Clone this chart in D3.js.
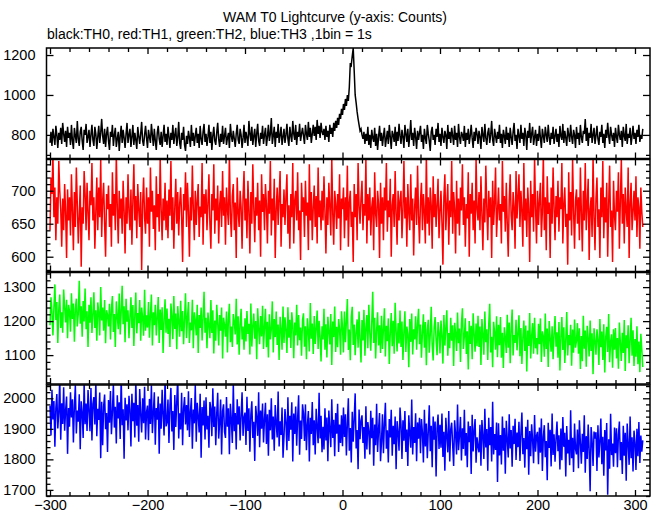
<!DOCTYPE html>
<html><head><meta charset="utf-8">
<script src="https://cdn.jsdelivr.net/npm/d3@7"></script>
<style>
body{margin:0;background:#fff}
svg{display:block}
text{font-family:"Liberation Sans",Arial,Helvetica,sans-serif;fill:#000}
</style>
</head><body><svg id="c" width="661" height="515"></svg>
<script>
// time of the first bin (s); 1 bin = 1 s
const binStart = -300;

const th0 = [
760,815,745,830,790,750,845,800,735,810,775,835,755,860,805,765,820,740,840,785,
810,750,850,770,730,835,795,760,870,780,745,815,840,770,725,825,800,855,760,790,
825,740,800,850,775,745,840,805,730,790,845,760,810,880,795,755,830,740,805,840,
770,725,815,790,850,745,800,835,740,780,815,720,795,845,760,825,785,735,805,860,
760,800,830,740,790,850,750,810,775,730,840,795,755,805,865,770,745,800,845,785,
735,825,790,760,855,800,745,830,770,725,810,845,780,750,815,740,795,850,765,805,
750,840,790,735,810,775,850,755,800,835,745,785,865,760,730,810,775,840,750,720,
795,755,820,785,740,850,770,810,745,795,835,760,805,735,845,780,750,815,855,765,
805,745,790,850,760,815,725,795,840,770,750,810,860,780,740,805,765,845,755,795,
835,750,785,810,735,855,795,765,820,780,740,805,850,775,755,830,800,735,785,850,
760,815,785,745,870,805,770,840,750,795,830,740,805,855,770,745,810,780,845,755,
800,835,745,790,850,770,805,885,755,795,840,740,815,785,855,760,800,840,750,790,
830,760,800,855,780,745,840,795,765,870,805,775,850,750,815,790,855,770,805,835,
795,755,850,805,775,865,790,835,760,805,850,795,840,775,875,805,845,785,860,815,
800,830,775,845,790,820,765,850,805,835,790,860,820,870,835,885,850,905,880,930,
900,955,925,980,945,1000,970,1040,1160,1150,1195,1235,1120,1000,960,915,880,850,820,830,
800,780,815,755,805,770,840,750,800,735,825,785,765,835,745,805,725,790,845,770,
810,745,795,835,740,780,820,755,850,790,730,820,800,765,840,745,815,770,855,795,
755,825,790,735,850,805,765,830,740,795,875,775,810,745,835,790,730,820,775,810,
845,765,800,730,830,785,755,850,805,770,720,815,840,775,800,750,830,790,860,765,
805,745,835,790,760,820,800,730,850,780,815,760,835,795,750,845,775,810,740,855,
790,755,815,800,770,845,740,810,775,830,755,795,850,785,735,815,770,835,805,755,
820,790,730,840,800,765,855,785,750,810,835,760,800,870,775,745,830,795,760,815,
780,850,760,805,735,825,795,755,840,775,810,740,835,790,750,815,860,770,800,730,
830,795,760,850,780,810,745,835,800,725,820,785,860,760,805,840,750,790,825,745,
805,770,845,785,735,830,795,760,840,800,765,850,790,750,810,780,840,755,795,830,
765,805,740,845,795,775,855,760,820,785,745,835,800,765,850,790,755,825,800,735,
840,780,810,750,850,790,760,820,805,880,770,835,745,810,785,855,760,800,835,755,
795,845,780,750,815,790,850,760,805,735,825,785,860,795,755,840,800,770,810,740,
835,790,760,850,800,775,820,740,840,795,770,855,755,805,785,835,750,795,845,780,
810,755,825,790,850,765,800,780,830];

const th1 = [
640,720,695,755,660,705,625,690,650,745,700,672,615,688,640,710,668,598,702,655,
690,632,725,668,610,698,645,735,680,620,662,708,585,675,650,730,695,640,712,668,
625,700,678,742,655,690,612,668,720,640,705,660,748,630,685,712,650,600,695,672,
708,645,680,615,728,662,695,640,755,675,620,700,658,688,635,715,670,605,690,650,
725,668,640,702,618,685,740,655,692,628,710,672,645,698,580,680,720,660,635,705,
650,690,615,735,668,700,642,678,610,722,660,695,638,750,672,625,688,655,712,640,
685,628,702,662,745,640,690,612,675,718,650,698,632,680,705,660,592,695,670,728,
645,712,668,600,690,655,738,672,625,700,648,685,710,630,676,660,742,618,695,665,
702,640,680,725,650,612,695,670,740,635,688,655,708,620,678,700,645,730,662,690,
618,705,672,648,755,665,630,692,710,640,682,598,720,668,645,700,675,612,690,730,
655,688,628,715,670,605,698,650,740,675,622,690,662,712,640,685,600,725,668,695,
640,710,678,620,700,665,745,632,688,655,718,598,672,705,648,690,730,615,680,660,
702,648,690,725,635,678,612,695,660,742,620,685,700,655,728,640,670,595,712,668,
690,630,715,662,682,610,740,655,698,625,675,708,645,692,620,735,660,685,640,700,
655,722,668,605,690,648,712,675,632,750,665,618,700,680,642,695,658,725,610,688,
672,705,628,690,655,738,615,682,700,645,668,592,710,660,695,625,742,678,650,688,
715,640,680,662,748,620,695,655,705,632,675,690,610,728,665,645,700,680,598,712,
650,690,625,705,670,742,638,685,660,718,600,678,695,645,730,665,618,700,655,685,
700,628,672,745,658,690,615,710,668,640,725,655,688,602,675,705,648,738,662,620,
685,712,640,695,668,620,755,650,690,632,705,678,612,722,660,695,645,680,718,628,
668,700,652,588,690,725,640,678,710,618,685,660,745,635,698,672,605,715,650,688,
632,705,670,740,648,690,615,680,658,728,600,695,665,712,640,685,620,750,672,655,
698,640,722,665,610,688,652,738,675,625,700,660,690,598,715,648,682,735,630,668,
705,655,680,620,745,668,692,638,712,650,600,685,725,662,640,698,675,612,730,658,
690,725,645,700,668,615,742,655,688,630,705,672,592,715,660,695,638,750,675,620,
700,648,685,712,630,668,755,640,690,610,722,665,682,598,705,650,735,675,625,692,
660,715,638,690,672,742,620,680,705,645,665,588,728,655,698,632,748,670,612,685,
702,650,690,625,735,668,608,700,655,742,640,680,718,595,672,690,630,752,660,610,
688,720,645,672,598,705,660,745,628,690,652,712,600,680,738,645,670,592,715,662,
640,700,668,728,612,685,748,650,695,620,705,670,645,735,598,682,712,640,668,700,
655,722,630,690,675,612,705,668,645];

const th2 = [
1188,1270,1226,1158,1240,1308,1203,1256,1136,1233,1278,1180,1226,1166,1293,1240,1196,1263,1150,1248,
1229,1169,1282,1206,1252,1139,1236,1266,1184,1222,1319,1192,1244,1154,1259,1199,1296,1176,1229,1124,
1248,1195,1270,1165,1218,1285,1180,1232,1142,1255,1225,1158,1300,1202,1240,1172,1262,1135,1232,1218,
1184,1251,1146,1236,1274,1168,1221,1124,1258,1214,1176,1281,1161,1228,1304,1191,1244,1138,1266,1198,
1232,1150,1210,1270,1180,1247,1127,1217,1284,1164,1224,1194,1262,1142,1240,1210,1157,1292,1172,1217,
1181,1256,1151,1218,1278,1128,1226,1188,1248,1158,1211,1271,1136,1234,1174,1241,1106,1204,1264,1166,
1237,1162,1207,1124,1252,1214,1147,1274,1177,1222,1117,1244,1200,1154,1260,1170,1230,1132,1207,1282,
1150,1210,1256,1136,1196,1173,1263,1120,1226,1203,1158,1248,1106,1218,1180,1240,1143,1210,1286,1166,
1210,1120,1225,1188,1150,1262,1165,1232,1105,1202,1142,1248,1195,1128,1218,1172,1240,1090,1210,1188,
1154,1228,1108,1206,1251,1138,1184,1124,1221,1198,1161,1266,1131,1214,1101,1191,1236,1146,1184,1116,
1208,1140,1230,1162,1192,1102,1252,1125,1185,1222,1148,1200,1088,1238,1178,1132,1215,1155,1245,1118,
1183,1236,1123,1198,1093,1220,1146,1176,1258,1108,1206,1153,1228,1130,1190,1086,1213,1176,1116,1243,
1136,1211,1174,1106,1241,1151,1204,1121,1226,1188,1091,1196,1158,1248,1128,1218,1144,1181,1098,1204,
1223,1125,1185,1088,1208,1171,1111,1253,1148,1193,1103,1215,1133,1178,1231,1118,1201,1155,1081,1185,
1146,1236,1116,1191,1093,1213,1169,1131,1221,1071,1199,1153,1243,1109,1183,1123,1206,1176,1101,1229,
1182,1108,1228,1138,1198,1265,1115,1175,1085,1212,1242,1130,1190,1100,1168,1205,1122,1228,1145,1078,
1203,1143,1233,1098,1180,1218,1120,1248,1166,1113,1196,1286,1136,1210,1090,1173,1226,1128,1188,1106,
1216,1118,1178,1238,1096,1186,1141,1208,1074,1164,1224,1126,1201,1104,1254,1171,1111,1194,1134,1231,
1124,1199,1086,1169,1229,1109,1184,1162,1064,1206,1139,1222,1102,1176,1146,1214,1116,1192,1236,1132,
1190,1092,1167,1220,1122,1197,1070,1174,1204,1107,1160,1242,1130,1084,1182,1212,1144,1100,1197,1167,
1105,1202,1158,1075,1218,1128,1180,1232,1098,1165,1120,1210,1142,1188,1068,1195,1165,1112,1225,1135,
1178,1080,1193,1238,1118,1156,1208,1103,1170,1058,1200,1133,1186,1088,1223,1163,1110,1193,1126,1216,
1124,1184,1071,1206,1161,1101,1228,1138,1176,1086,1191,1251,1108,1154,1064,1198,1168,1116,1214,1094,
1189,1129,1212,1092,1166,1062,1182,1152,1106,1219,1122,1196,1076,1174,1234,1099,1159,1136,1204,1114,
1164,1217,1097,1180,1074,1150,1202,1112,1187,1052,1172,1127,1224,1090,1157,1194,1104,1210,1120,1150,
1102,1192,1132,1208,1080,1170,1155,1095,1222,1118,1178,1065,1200,1148,1110,1185,1088,1162,1215,1125,
1167,1092,1197,1055,1152,1212,1115,1182,1077,1145,1227,1099,1159,1129,1189,1069,1175,1107,1205,1122,
1142,1194,1104,1179,1059,1156,1082,1216,1119,1172,1066,1186,1149,1096,1202,1112,1164,1044,1179,1142,
1101,1176,1146,1071,1206,1123,1169,1086,1191,1049,1153,1183,1109,1221,1079,1139,1161,1063,1176,1116,
1180,1090,1150,1060,1196,1136,1083,1166,1106,1203,1053,1158,1120,1188,1076,1143,1210,1098,1173,1068,
1147,1095,1185,1073,1140,1050,1163,1117,1065];

const th3 = [
1976,1878,2028,1931,1991,1841,1968,2014,1901,1954,2066,1864,1984,1916,2036,1894,1961,2006,1818,1968,
1907,2020,1937,1997,1855,1975,2043,1885,1960,1923,2013,1833,1990,1953,1870,2050,1915,1983,1893,2027,
1959,1892,2034,1862,1982,2004,1914,2056,1876,1966,1929,2019,1804,1989,1846,1974,2012,1899,1952,1824,
1994,1920,2024,1882,1957,2047,1904,1972,1852,2010,1934,1987,1867,2070,1912,1964,1802,2002,1927,1980,
1895,2008,1962,1842,2015,1925,1985,1872,2060,1910,1978,1858,2030,1948,1888,2000,1918,2038,1865,1955,
1976,1863,1998,1916,2043,1886,1953,2020,1848,1968,1930,2006,1818,1983,1900,2028,1946,1878,2066,1908,
1921,1996,1854,1974,2034,1891,1958,1831,2011,1906,1988,2071,1868,1951,1898,2018,1846,1966,2004,1914,
1978,1895,2023,1873,1955,2001,1835,1963,1918,2045,1858,1985,1941,1888,2015,1805,1971,1911,1993,1865,
2003,1898,1943,1838,1988,1966,1876,2033,1906,1973,1846,1950,2018,1868,1920,1996,1816,1958,1980,1890,
1870,2004,1907,1967,1817,1982,1930,1854,2050,1892,1952,1832,1997,1914,1974,1862,1944,2020,1877,1937,
1953,1847,2005,1893,1967,1825,1945,1990,1870,1923,1795,1975,1937,1877,2020,1840,1960,1900,1983,1855,
1932,1985,1850,1948,1812,1962,1895,2000,1865,1940,1828,1978,1918,1872,2022,1842,1925,1880,1970,1805,
1875,1965,1920,1830,2003,1860,1943,1897,1987,1793,1950,1883,1973,1845,1935,2010,1815,1927,1867,1980,
1950,1860,1980,1830,1913,1958,1793,1936,1883,1988,1846,1928,1816,1966,1906,1853,2018,1868,1943,1823,
1907,1832,1967,1862,1937,1794,1960,1900,1840,1997,1870,1930,1810,1952,1884,1982,1824,1914,1854,1944,
1843,1970,1873,1948,1813,1918,2000,1828,1903,1790,1956,1858,1933,2016,1836,1896,1768,1963,1866,1926,
1944,1854,1906,1802,1974,1832,1922,1892,1816,1959,1869,1936,1779,1914,1846,1982,1824,1899,1952,1794,
1858,1948,1820,1918,1985,1835,1895,1790,1932,1872,1962,1812,1910,1850,1940,1768,1925,1888,1828,1970,
1914,1801,1928,1861,1958,1824,1898,1778,1944,1884,1838,1996,1816,1906,1854,1951,1794,1921,1868,1936,
1820,1932,1887,1790,1962,1842,1917,1804,1894,1977,1827,1910,1774,1940,1864,1924,1744,1902,1947,1834,
1913,1838,1950,1808,1890,1763,1936,1876,1823,1958,1793,1898,1920,1846,1778,1928,1883,1816,1980,1830,
1879,1939,1796,1902,1834,1962,1812,1886,1774,1924,1856,1909,1752,1946,1826,1894,1932,1789,1872,1842,
1823,1913,1779,1929,1876,1801,1966,1839,1899,1763,1936,1846,1906,1793,1989,1816,1883,1831,1921,1726,
1918,1813,1880,1783,1940,1828,1903,1753,1926,1866,1806,1948,1836,1896,1776,1910,1850,1933,1798,1888,
1840,1923,1795,1885,1953,1817,1870,1773,1907,1833,1930,1750,1893,1810,1915,1863,1787,1945,1825,1877,
1890,1784,1904,1822,1934,1762,1874,1912,1807,1860,1732,1920,1837,1897,1777,1950,1814,1882,1792,1867,
1924,1827,1879,1767,1901,1797,1939,1841,1887,1744,1909,1819,1864,1781,1961,1804,1871,1759,1917,1834,
1816,1898,1771,1928,1854,1786,1884,1824,1944,1756,1876,1801,1914,1831,1696,1906,1861,1778,1891,1868,
1889,1762,1912,1806,1859,1934,1784,1874,1746,1896,1829,1919,1684,1866,1769,1949,1814,1852,1776,1904,
1820,1902,1774,1880,1924,1797,1857,1752,1910,1812,1887,1730,1917,1850,1782,1940,1804,1872,1760,1894,
1855,1765,1900,1810,1922,1788,1878,1825,1862];

const seriesColors = ["#000000", "#ff0000", "#00ff00", "#0000ff"];
const yMajorTicks = [[800, 1000, 1200], [600, 650, 700], [1100, 1200, 1300], [1700, 1800, 1900, 2000]];
const yMinorStep = [100, 10, 20, 20];
const xMajorTicks = [-300, -200, -100, 0, 100, 200, 300];
const titleText = "WAM T0 Lightcurve (y-axis: Counts)";
const subtitleText = "black:TH0, red:TH1, green:TH2, blue:TH3 ,1bin = 1s";

// ---- layout (pixels) ----
const left = 46.5, right = 650;
const panels = [
  {top: 48, bottom: 158.5, dom: [681.8, 1235.2]},
  {top: 159.5, bottom: 271.5, dom: [577.6, 747.3]},
  {top: 272.5, bottom: 384, dom: [1015, 1343]},
  {top: 385, bottom: 496, dom: [1680, 2043.5]}
];
const series = [th0, th1, th2, th3];

const svg = d3.select("#c");
svg.append("rect").attr("width", 661).attr("height", 515).attr("fill", "#fff");

const x = d3.scaleLinear().domain([-303.6, 315.4]).range([left, right]);
const xMinor = d3.range(-300, 320, 20);

svg.append("text").attr("x", 335).attr("y", 22).attr("text-anchor", "middle")
  .style("font-size", "14px").text(titleText);
svg.append("text").attr("x", 47).attr("y", 39).attr("text-anchor", "start")
  .style("font-size", "14px").text(subtitleText);

panels.forEach((p, i) => {
  const y = d3.scaleLinear().domain(p.dom).range([p.bottom, p.top]);
  const g = svg.append("g");
  const cid = "clip" + i;
  svg.append("clipPath").attr("id", cid).append("rect")
    .attr("x", left).attr("y", p.top).attr("width", right - left).attr("height", p.bottom - p.top);

  const data = series[i].map((v, k) => [binStart + k, v]);
  const line = d3.line().x(d => x(d[0])).y(d => y(d[1]));
  g.append("path").datum(data).attr("clip-path", "url(#" + cid + ")")
    .attr("d", line).attr("fill", "none").attr("stroke", seriesColors[i])
    .attr("stroke-width", 1.5).attr("stroke-linejoin", "miter");

  const yMinor = d3.range(Math.ceil(p.dom[0] / yMinorStep[i]) * yMinorStep[i], p.dom[1], yMinorStep[i])
    .filter(v => !yMajorTicks[i].includes(v));

  const styleAxis = sel => {
    sel.select(".domain").remove();
    sel.selectAll(".tick line").attr("stroke", "#000").attr("stroke-width", 1.3);
  };

  // left
  g.append("g").attr("transform", `translate(${left},0)`)
    .call(d3.axisLeft(y).tickValues(yMinor).tickSize(-4).tickFormat("")).call(styleAxis);
  const la = g.append("g").attr("transform", `translate(${left},0)`)
    .call(d3.axisLeft(y).tickValues(yMajorTicks[i]).tickSize(-7).tickPadding(11).tickFormat(d3.format("d")))
    .call(styleAxis);
  la.selectAll("text").style("font-size", "14.5px").attr("fill", "#000")
    .style("font-family", "'Liberation Sans',Arial,Helvetica,sans-serif");
  // right
  g.append("g").attr("transform", `translate(${right},0)`)
    .call(d3.axisRight(y).tickValues(yMinor).tickSize(-4).tickFormat("")).call(styleAxis);
  g.append("g").attr("transform", `translate(${right},0)`)
    .call(d3.axisRight(y).tickValues(yMajorTicks[i]).tickSize(-7).tickFormat("")).call(styleAxis);
  // top
  g.append("g").attr("transform", `translate(0,${p.top})`)
    .call(d3.axisTop(x).tickValues(xMinor.filter(v => !xMajorTicks.includes(v))).tickSize(-4).tickFormat("")).call(styleAxis);
  g.append("g").attr("transform", `translate(0,${p.top})`)
    .call(d3.axisTop(x).tickValues(xMajorTicks).tickSize(-6).tickFormat("")).call(styleAxis);
  // bottom
  g.append("g").attr("transform", `translate(0,${p.bottom})`)
    .call(d3.axisBottom(x).tickValues(xMinor.filter(v => !xMajorTicks.includes(v))).tickSize(-4).tickFormat("")).call(styleAxis);
  const ba = g.append("g").attr("transform", `translate(0,${p.bottom})`)
    .call(d3.axisBottom(x).tickValues(xMajorTicks).tickSize(-6).tickPadding(4)
      .tickFormat(i === 3 ? (d => d3.format("d")(d).replace("-", "\u2212")) : ""))
    .call(styleAxis);
  ba.selectAll("text").style("font-size", "14.5px").attr("fill", "#000")
    .style("font-family", "'Liberation Sans',Arial,Helvetica,sans-serif");

  // frame
  g.append("rect").attr("x", left).attr("y", p.top).attr("width", right - left).attr("height", p.bottom - p.top)
    .attr("fill", "none").attr("stroke", "#000").attr("stroke-width", 1.5);
});
</script>
</body></html>
